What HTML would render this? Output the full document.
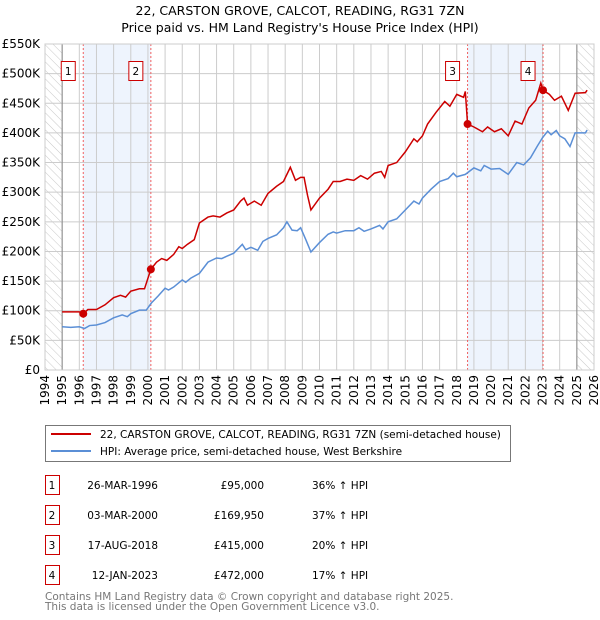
<!DOCTYPE html>
<html><head><meta charset="utf-8"><style>
body{margin:0;background:#fff;}
svg{display:block;font-family:"DejaVu Sans","Liberation Sans",sans-serif;}
</style></head><body>
<svg id="c" width="600" height="620" viewBox="0 0 600 620">
<defs><pattern id="hatch" width="6" height="6" patternUnits="userSpaceOnUse" patternTransform="rotate(-45)"><line x1="0" y1="0" x2="0" y2="6" stroke="#bbb" stroke-width="0.8"/></pattern></defs>
<text x="300" y="15" text-anchor="middle" font-size="12.5">22, CARSTON GROVE, CALCOT, READING, RG31 7ZN</text>
<text x="300" y="32" text-anchor="middle" font-size="12.5">Price paid vs. HM Land Registry's House Price Index (HPI)</text>
<g id="plot"></g>
<g>
<rect x="45.5" y="425.5" width="465" height="36" fill="#fff" stroke="#777"/>
<line x1="51" y1="434" x2="91" y2="434" stroke="#cc0000" stroke-width="2"/>
<text x="100" y="438" font-size="10.5">22, CARSTON GROVE, CALCOT, READING, RG31 7ZN (semi-detached house)</text>
<line x1="51" y1="451" x2="91" y2="451" stroke="#5b8fd6" stroke-width="2"/>
<text x="100" y="455" font-size="10.5">HPI: Average price, semi-detached house, West Berkshire</text>
</g>
<g id="table" font-size="10.5"></g>
<text x="45" y="600" font-size="10.5" fill="#777">Contains HM Land Registry data © Crown copyright and database right 2025.</text>
<text x="45" y="610" font-size="10.5" fill="#777">This data is licensed under the Open Government Licence v3.0.</text>
</svg>
<script>
const hpiYears=[1995,1995.5,1996,1996.3,1996.6,1997,1997.5,1998,1998.5,1998.8,1999,1999.5,1999.9,2000.2,2000.6,2001,2001.2,2001.5,2002,2002.2,2002.5,2003,2003.5,2004,2004.3,2004.6,2005,2005.5,2005.7,2006,2006.4,2006.7,2007,2007.5,2007.9,2008.1,2008.4,2008.7,2008.9,2009.2,2009.5,2010,2010.5,2010.8,2011,2011.5,2012,2012.3,2012.6,2013,2013.5,2013.7,2014,2014.5,2015,2015.5,2015.8,2016,2016.5,2017,2017.5,2017.8,2018,2018.5,2019,2019.4,2019.6,2020,2020.5,2021,2021.5,2021.9,2022.3,2022.7,2023,2023.3,2023.5,2023.8,2024,2024.3,2024.6,2024.9,2025.5,2025.6];
const hpiValues=[73,72,73,70,75,76,80,88,93,90,95,101,101,113,125,138,135,140,152,148,155,163,182,189,188,192,197,212,203,207,202,217,222,228,240,250,236,235,240,220,199,215,229,233,231,235,235,240,234,238,244,238,250,255,270,285,280,290,305,318,323,332,326,330,341,336,345,339,340,330,350,346,358,378,392,403,397,404,395,390,377,400,400,405];
const priceYears=[1995,1996,1996.23,1996.5,1997,1997.5,1998,1998.4,1998.7,1999,1999.5,1999.8,2000.17,2000.5,2000.8,2001.1,2001.5,2001.8,2002,2002.3,2002.7,2003,2003.5,2003.8,2004.2,2004.6,2005,2005.4,2005.6,2005.8,2006.2,2006.6,2007,2007.5,2007.9,2008.3,2008.6,2008.9,2009.1,2009.3,2009.5,2010,2010.5,2010.8,2011.2,2011.6,2012,2012.4,2012.8,2013.2,2013.6,2013.8,2014,2014.5,2015,2015.5,2015.7,2016,2016.3,2016.8,2017.3,2017.6,2018,2018.4,2018.5,2018.63,2019,2019.5,2019.8,2020.2,2020.6,2021,2021.4,2021.8,2022.2,2022.6,2022.9,2023.03,2023.4,2023.7,2024.1,2024.5,2024.9,2025.5,2025.6];
const priceValues=[98,98,95,102,102,110,122,126,123,133,137,137,170,182,188,185,195,208,205,212,220,248,258,260,258,265,270,285,290,278,285,278,298,310,318,342,320,325,325,295,270,290,305,318,318,322,320,328,322,332,335,325,345,350,368,390,385,395,415,435,453,445,465,460,470,415,410,402,410,402,407,395,420,415,442,455,484,472,465,455,462,438,467,468,472];
const saleLabels=["1","2","3","4"];
const saleYears=[1996.23,2000.17,2018.63,2023.03];
const saleValues=[95,169.95,415,472];
const saleDates=["26-MAR-1996","03-MAR-2000","17-AUG-2018","12-JAN-2023"];
const salePrices=["£95,000","£169,950","£415,000","£472,000"];
const saleHpi=["36% ↑ HPI","37% ↑ HPI","20% ↑ HPI","17% ↑ HPI"];
const yTicks=[0,50,100,150,200,250,300,350,400,450,500,550];
const yTickLabels=["£0","£50K","£100K","£150K","£200K","£250K","£300K","£350K","£400K","£450K","£500K","£550K"];
const xTicks=[1994,1995,1996,1997,1998,1999,2000,2001,2002,2003,2004,2005,2006,2007,2008,2009,2010,2011,2012,2013,2014,2015,2016,2017,2018,2019,2020,2021,2022,2023,2024,2025,2026];

const NS="http://www.w3.org/2000/svg";
const L=45,R=594,T=44,B=370;
const x=v=>L+(v-1994)/(32)*(R-L);
const y=v=>B-v/550*(B-T);
function mk(tag,attrs,parent){const e=document.createElementNS(NS,tag);for(const k in attrs)e.setAttribute(k,attrs[k]);parent.appendChild(e);return e;}
const g=document.getElementById('plot');
// hatch
let h1=mk('rect',{x:L,y:T,width:x(1995)-L,height:B-T,fill:'url(#hatch)'},g);


let h2=mk('rect',{x:x(2025),y:T,width:R-x(2025),height:B-T,fill:'url(#hatch)'},g);


// shading
[[0,1],[2,3]].forEach(p=>{
 const r=mk('rect',{x:x(saleYears[p[0]]),y:T,width:x(saleYears[p[1]])-x(saleYears[p[0]]),height:B-T,fill:'#eef4fd'},g);
 
 
});
// grid
yTicks.forEach((t,i)=>{
 const ln=mk('line',{x1:L,x2:R,y1:y(t),y2:y(t),stroke:'#ccc'},g);
 
 
 const tx=mk('text',{x:L-5,y:y(t)+4,'text-anchor':'end','font-size':'12'},g);
 tx.textContent=yTickLabels[i];
 
 
});
xTicks.forEach(t=>{
 const ln=mk('line',{x1:x(t),x2:x(t),y1:T,y2:B,stroke:'#ccc'},g);
 
 
 const tx=mk('text',{x:0,y:0,'text-anchor':'end','font-size':'12',transform:`translate(${x(t)+4},${B+5}) rotate(-90)`},g);
 tx.textContent=t;
 
 
});
mk('line',{x1:x(1995),x2:x(1995),y1:T,y2:B,stroke:'#888'},g);
mk('line',{x1:x(2025),x2:x(2025),y1:T,y2:B,stroke:'#888'},g);
// sale lines
saleYears.forEach((s,i)=>{
 const ln=mk('line',{x1:x(s),x2:x(s),y1:T,y2:B,stroke:'#f06060','stroke-dasharray':'2,2'},g);
 
 
});
// series
const hp=mk('polyline',{points:hpiYears.map((v,i)=>x(v)+','+y(hpiValues[i])).join(' '),fill:'none',stroke:'#5b8fd6','stroke-width':1.5},g);


const pp=mk('polyline',{points:priceYears.map((v,i)=>x(v)+','+y(priceValues[i])).join(' '),fill:'none',stroke:'#cc0000','stroke-width':1.5},g);


saleYears.forEach((s,i)=>{
 const c=mk('circle',{cx:x(s),cy:y(saleValues[i]),r:4,fill:'#cc0000'},g);
 
 
 const bx=x(s)-15;
 const rb=mk('rect',{x:bx-7,y:61.5,width:14,height:19,fill:'#fff',stroke:'#cc0000'},g);
 
 
 const tx=mk('text',{x:bx,y:75,'text-anchor':'middle','font-size':'10.5'},g);
 tx.textContent=saleLabels[i];
 
 
});
mk('rect',{x:L,y:T,width:R-L,height:B-T,fill:'none',stroke:'#ccc'},g);
// table
const tb=document.getElementById('table');
saleLabels.forEach((lab,i)=>{
 const yy=475+i*30;
 const r=mk('rect',{x:45.5,y:yy+0.5,width:14,height:19,fill:'#fff',stroke:'#cc0000'},tb);
 
 
 const cells=[[52,'middle',lab],[158,'end',saleDates[i]],[264,'end',salePrices[i]],[312,'start',saleHpi[i]]];
 cells.forEach((c,j)=>{
  const t=mk('text',{x:c[0],y:yy+14,'text-anchor':c[1]},tb);
  t.textContent=c[2];
  
  
 });
});
</script>
</body></html>
